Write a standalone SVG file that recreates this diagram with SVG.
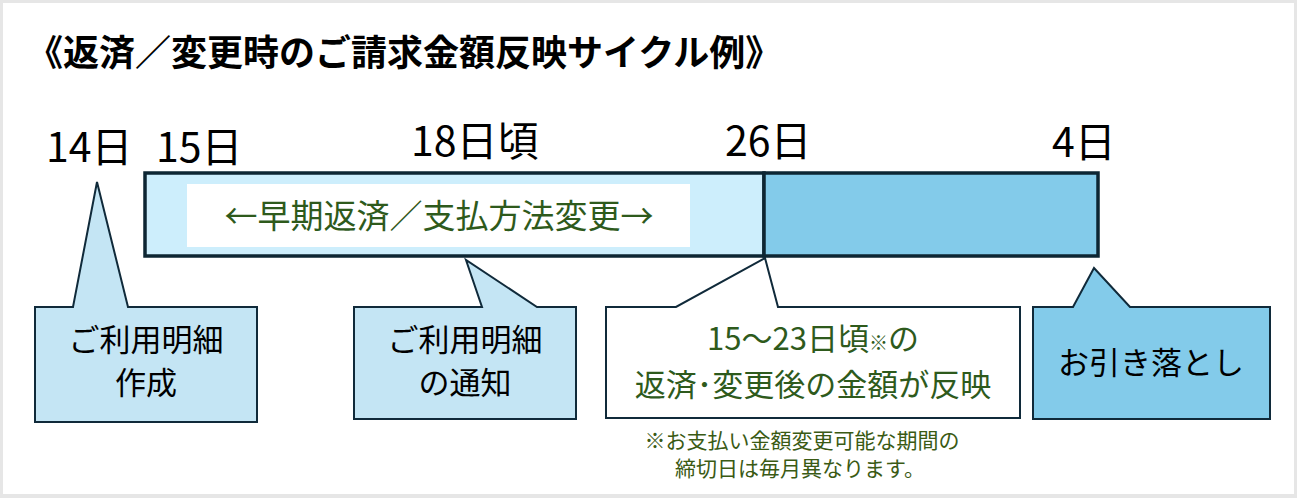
<svg xmlns="http://www.w3.org/2000/svg" width="1297" height="498" viewBox="0 0 1297 498">
<style>
text{font-family:"Noto Sans CJK JP","Noto Sans",sans-serif;}
.t{font-size:36px;font-weight:bold;fill:#000;}
.d{font-size:41px;fill:#000;}
.c{font-size:31px;fill:#000;text-anchor:middle;}
.g{fill:#2e5a1c;}
.n{font-size:21px;fill:#3a5a14;text-anchor:middle;}
.s{stroke:#102a3a;stroke-width:2;stroke-linejoin:miter;}
.bar{stroke:#0d2633;stroke-width:3.5;}
</style>
<rect x="0" y="0" width="1297" height="498" fill="#e6e6e6"/>
<rect x="3" y="3" width="1291" height="491" fill="#ffffff"/>
<text class="t" x="27" y="66">《返済／変更時のご請求金額反映サイクル例》</text>
<g id="dates">
<text class="d" x="46" y="162">14日</text>
<text class="d" x="156" y="162">15日</text>
<text class="d" x="411" y="156">18日頃</text>
<text class="d" x="725" y="156">26日</text>
<text class="d" x="1052" y="157">4日</text>
</g>
<g id="bar">
<rect class="bar" x="145" y="173" width="619" height="83" fill="#cdeefc"/>
<rect class="bar" x="764" y="173" width="334" height="83" fill="#83cbea"/>
<rect x="187" y="184" width="503" height="63" fill="#ffffff"/>
<text class="c g" x="439" y="228" style="font-size:33px">←早期返済／支払方法変更→</text>
</g>
<g id="callout-create">
<path class="s" d="M35,307 L73,307 L97,182 L128,307 L257,307 L257,422 L35,422 Z" fill="#c4e5f4"/>
<text class="c" x="146" y="351">ご利用明細</text>
<text class="c" x="146" y="394">作成</text>
</g>
<g id="callout-notice">
<path class="s" d="M354,307 L482,307 L466,260 L537,307 L576,307 L576,419 L354,419 Z" fill="#c4e5f4"/>
<text class="c" x="465" y="351">ご利用明細</text>
<text class="c" x="465" y="394">の通知</text>
</g>
<g id="callout-reflect">
<path class="s" d="M606,307 L676,307 L765,258 L778,307 L1020,307 L1020,418 L606,418 Z" fill="#ffffff"/>
<text class="c g" x="813" y="350">15～23日頃<tspan style="font-size:19px">※</tspan>の</text>
<text class="c g" x="813" y="396">返済<tspan>･</tspan>変更後の金額が反映</text>
</g>
<g id="callout-debit">
<path class="s" d="M1033,307 L1073,307 L1094,268 L1130,307 L1270,307 L1270,419 L1033,419 Z" fill="#83cbea"/>
<text class="c" x="1151" y="374">お引き落とし</text>
</g>
<g id="note">
<text class="n" x="802" y="448">※お支払い金額変更可能な期間の</text>
<text class="n" x="800" y="476">締切日は毎月異なります。</text>
</g>
<g id="connectors"></g>
</svg>
